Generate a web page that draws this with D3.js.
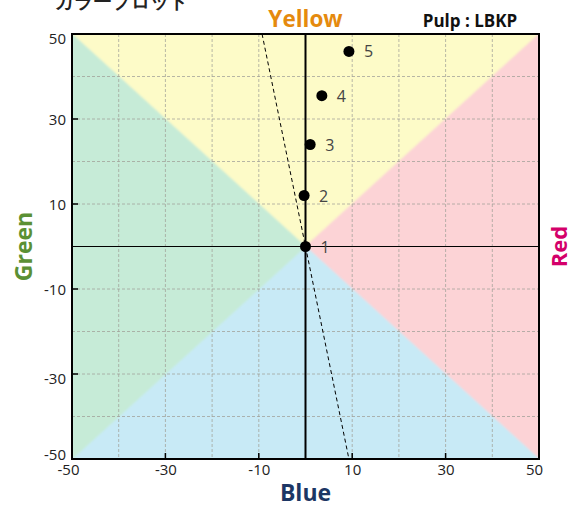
<!DOCTYPE html>
<html><head><meta charset="utf-8">
<script src="https://cdn.jsdelivr.net/npm/d3@7"></script>
<style>
body{margin:0;background:#fff;}
text{font-family:"Open Sans","Noto Sans",sans-serif;}
</style></head>
<body><svg id="c" width="571" height="508"></svg>
<script>
const title = "カラープロット";
const pulpLabel = "Pulp : LBKP";
const tickValues = [-50, -30, -10, 10, 30, 50];
const gridValues = [-40, -30, -20, -10, 10, 20, 30, 40];
const pointLabels = ["1", "2", "3", "4", "5"];
const pointB = [0, -0.3, 1.0, 3.5, 9.3];   // x: Blue(-) / Red(+)
const pointY = [0, 12, 24, 35.5, 45.9];    // y: Yellow(+) / Green(-)
const trendX = [-9.3, 9.3];
const trendY = [50, -50];

const svg = d3.select("#c");
const L = 72, R = 539, T = 34, B = 459;
const x = d3.scaleLinear().domain([-50, 50]).range([L, R]);
const y = d3.scaleLinear().domain([-50, 50]).range([B, T]);

// background triangles
const cx = x(0), cy = y(0);
const tri = [
  {c: "#fdfbc8", p: [[x(-50), y(50)], [x(50), y(50)], [cx, cy]]},
  {c: "#fcd3d6", p: [[x(50), y(50)], [x(50), y(-50)], [cx, cy]]},
  {c: "#c8eaf6", p: [[x(50), y(-50)], [x(-50), y(-50)], [cx, cy]]},
  {c: "#c6ebd7", p: [[x(-50), y(-50)], [x(-50), y(50)], [cx, cy]]}
];
const defs = svg.append("defs");
defs.append("filter").attr("id", "soft").append("feGaussianBlur").attr("stdDeviation", 1.2);
defs.append("clipPath").attr("id", "clip").append("rect")
  .attr("x", L).attr("y", T).attr("width", R - L).attr("height", B - T);
const bg = svg.append("g").attr("clip-path", "url(#clip)");
bg.append("g").attr("filter", "url(#soft)").selectAll("path").data(tri).join("path")
  .attr("d", d => "M" + d.p.map(q => q.join(",")).join("L") + "Z")
  .attr("fill", d => d.c).attr("stroke", d => d.c).attr("stroke-width", 1);

// grid
const grid = svg.append("g");
grid.selectAll(".gv").data(gridValues).join("line")
  .attr("x1", d => x(d)).attr("x2", d => x(d)).attr("y1", T).attr("y2", B)
  .attr("stroke", "#a0a098").attr("stroke-width", 1).attr("stroke-dasharray", "3,2").attr("opacity", 0.75);
grid.selectAll(".gh").data(gridValues).join("line")
  .attr("y1", d => y(d)).attr("y2", d => y(d)).attr("x1", L).attr("x2", R)
  .attr("stroke", "#a0a098").attr("stroke-width", 1).attr("stroke-dasharray", "3,2").attr("opacity", 0.75);

// zero lines
svg.append("line").attr("x1", L).attr("x2", R).attr("y1", cy).attr("y2", cy)
  .attr("stroke", "#000").attr("stroke-width", 1.2);
svg.append("line").attr("x1", cx).attr("x2", cx).attr("y1", T).attr("y2", B)
  .attr("stroke", "#000").attr("stroke-width", 2);

// inner tick marks
const inner = tickValues.filter(v => v !== -50 && v !== 50);
svg.append("g").selectAll("line").data(inner).join("line")
  .attr("x1", d => x(d)).attr("x2", d => x(d)).attr("y1", B).attr("y2", B - 6)
  .attr("stroke", "#000").attr("stroke-width", 1.5);
svg.append("g").selectAll("line").data(inner).join("line")
  .attr("y1", d => y(d)).attr("y2", d => y(d)).attr("x1", L).attr("x2", L + 6)
  .attr("stroke", "#000").attr("stroke-width", 1.5);

// trend line
svg.append("line")
  .attr("x1", x(trendX[0])).attr("y1", y(trendY[0]))
  .attr("x2", x(trendX[1])).attr("y2", y(trendY[1]))
  .attr("stroke", "#000").attr("stroke-width", 1).attr("stroke-dasharray", "4,3");

// frame
svg.append("rect").attr("x", L).attr("y", T).attr("width", R - L).attr("height", B - T)
  .attr("fill", "none").attr("stroke", "#000").attr("stroke-width", 2);

// axes labels via d3 axes
const fmt = d => String(d);
const xAxis = svg.append("g").attr("transform", `translate(0,${B})`)
  .call(d3.axisBottom(x).tickValues(tickValues).tickSize(0).tickPadding(5).tickFormat(fmt));
xAxis.select(".domain").remove();
xAxis.selectAll("text").attr("font-size", 15).attr("fill", "#222")
  .attr("font-family", "'Open Sans',sans-serif")
  .attr("dx", d => d === -50 ? -4 : (d === 50 ? -5 : 0));
const yAxis = svg.append("g").attr("transform", `translate(${L},0)`)
  .call(d3.axisLeft(y).tickValues(tickValues).tickSize(0).tickPadding(6).tickFormat(fmt));
yAxis.select(".domain").remove();
yAxis.selectAll("text").attr("font-size", 15).attr("fill", "#222")
  .attr("font-family", "'Open Sans',sans-serif")
  .attr("dy", d => d === 50 ? "0.65em" : (d === -50 ? "0.0em" : (d === -30 ? "0.6em" : "0.38em")));

// points
const pts = pointB.map((b, i) => ({b, yv: pointY[i], l: pointLabels[i]}));
svg.append("g").selectAll("circle").data(pts).join("circle")
  .attr("cx", d => x(d.b)).attr("cy", d => y(d.yv)).attr("r", 5.5).attr("fill", "#000");
svg.append("g").selectAll("text").data(pts).join("text")
  .attr("x", d => x(d.b) + 15).attr("y", d => y(d.yv) + 6)
  .attr("font-size", 16).attr("fill", "#444").text(d => d.l);

// titles
svg.append("text").attr("x", 55).attr("y", 8)
  .attr("font-family", "'Noto Sans CJK JP',sans-serif").attr("font-weight", "bold")
  .attr("font-size", 19).attr("fill", "#222").text(title);
svg.append("text").attr("x", x(0)).attr("y", 27).attr("text-anchor", "middle")
  .attr("font-weight", "bold").attr("font-size", 22.5).attr("fill", "#e58a0e").text("Yellow");
svg.append("text").attr("x", 470).attr("y", 27).attr("text-anchor", "middle")
  .attr("font-weight", "bold").attr("font-size", 17).attr("fill", "#111").text(pulpLabel);
svg.append("text").attr("x", x(0)).attr("y", 501).attr("text-anchor", "middle")
  .attr("font-weight", "bold").attr("font-size", 23).attr("fill", "#1c3664").text("Blue");
svg.append("text").attr("transform", `translate(32,${cy}) rotate(-90)`).attr("text-anchor", "middle")
  .attr("font-weight", "bold").attr("font-size", 23).attr("fill", "#5b9034").text("Green");
svg.append("text").attr("transform", `translate(567,${cy}) rotate(-90)`).attr("text-anchor", "middle")
  .attr("font-weight", "bold").attr("font-size", 22).attr("fill", "#d4006a").text("Red");
</script>
</body></html>
